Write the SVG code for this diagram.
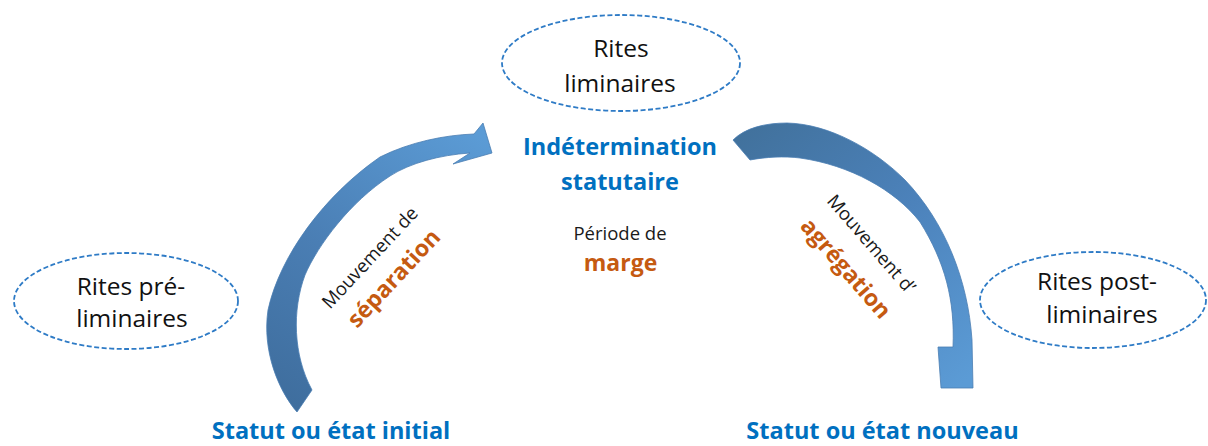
<svg xmlns="http://www.w3.org/2000/svg" width="1208" height="446" viewBox="0 0 1208 446">
  <style>
    .ell { fill: #FFFFFF; stroke: #2E7BC6; stroke-width: 1.8; stroke-dasharray: 5 2.5; }
    .lbl { font-family: "Open Sans", "Noto Sans", sans-serif; font-size: 24.5px; fill: #111111; text-anchor: middle; }
    .blue { font-family: "Open Sans", "Noto Sans", sans-serif; font-weight: bold; font-size: 23.5px; fill: #0070C0; text-anchor: middle; }
    .small { font-family: "Open Sans", "Noto Sans", sans-serif; font-size: 18.5px; fill: #1A1A1A; text-anchor: middle; }
    .orange { font-family: "Open Sans", "Noto Sans", sans-serif; font-weight: bold; font-size: 23px; fill: #C55A11; text-anchor: middle; }
    .arrow { stroke: #4A7DB3; stroke-width: 0.8; stroke-linejoin: round; }
  </style>
  <defs>
    <linearGradient id="gL" gradientUnits="userSpaceOnUse" x1="300" y1="410" x2="485" y2="140">
      <stop offset="0" stop-color="#3F6E9E"/>
      <stop offset="0.45" stop-color="#4A7EB4"/>
      <stop offset="1" stop-color="#5B9BD5"/>
    </linearGradient>
    <linearGradient id="gR" gradientUnits="userSpaceOnUse" x1="740" y1="130" x2="960" y2="385">
      <stop offset="0" stop-color="#41719C"/>
      <stop offset="0.5" stop-color="#4C82BB"/>
      <stop offset="1" stop-color="#5B9BD5"/>
    </linearGradient>
  </defs>
  <rect x="0" y="0" width="1208" height="446" fill="#FFFFFF"/>

  <g id="connectors">
    <g id="arrow-separation">
      <path class="arrow" fill="url(#gL)" d="M297,412 C278,390 262,350 268,310 C280,255 325,195 380,157 C410,142 445,135 474,134 L483,123 L492,153 L453,164 L470,153 C440,155 410,163 390,176 C350,202 318,245 305,275 C292,310 293,355 312,390 Z"/>
      <text class="small" font-size="19.5" transform="translate(374.5,262) rotate(-47)">Mouvement de</text>
      <text class="orange" transform="translate(399.5,283.5) rotate(-47)">séparation</text>
    </g>
    <g id="arrow-agregation">
      <path class="arrow" fill="url(#gR)" d="M733,140 C745,128 765,123 787,123 C830,124 875,150 905,180 C945,222 968,280 972,340 L973,388 L941,388 L938,347 L953,347 C955,300 945,262 920,222 C895,190 850,165 800,158 C785,156 765,157 750,160 Z"/>
      <text class="small" font-size="19.5" transform="translate(866.5,248) rotate(49)">Mouvement d’</text>
      <text class="orange" transform="translate(840,273.5) rotate(49)">agrégation</text>
    </g>
  </g>

  <g id="node-rites-liminaires">
    <ellipse class="ell" cx="621" cy="63" rx="119" ry="48"/>
    <text class="lbl" x="621" y="57">Rites</text>
    <text class="lbl" x="620" y="92">liminaires</text>
  </g>

  <g id="node-rites-preliminaires">
    <ellipse class="ell" cx="126" cy="301" rx="112" ry="48"/>
    <text class="lbl" x="131" y="295">Rites pré-</text>
    <text class="lbl" x="132" y="327">liminaires</text>
  </g>

  <g id="node-rites-postliminaires">
    <ellipse class="ell" cx="1093" cy="300" rx="113" ry="48"/>
    <text class="lbl" x="1097" y="290">Rites post-</text>
    <text class="lbl" x="1102" y="323">liminaires</text>
  </g>

  <g id="node-indetermination">
    <text class="blue" x="620" y="155">Indétermination</text>
    <text class="blue" x="620" y="190">statutaire</text>
  </g>

  <g id="node-marge">
    <text class="small" x="620" y="240">Période de</text>
    <text class="orange" x="620.5" y="271">marge</text>
  </g>

  <g id="node-statut-initial">
    <text class="blue" x="331" y="439">Statut ou état initial</text>
  </g>

  <g id="node-statut-nouveau">
    <text class="blue" x="882.5" y="439">Statut ou état nouveau</text>
  </g>
</svg>
